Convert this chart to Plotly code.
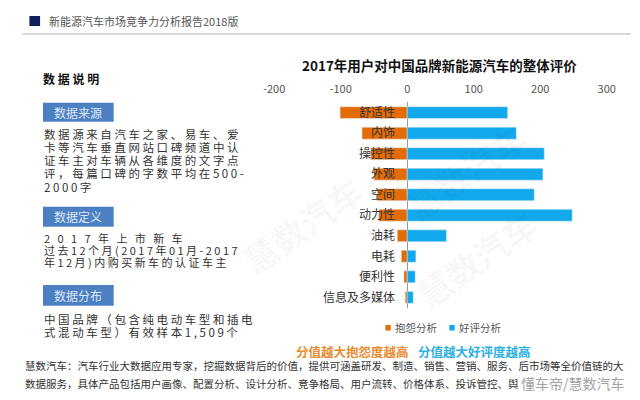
import plotly.graph_objects as go

categories = ["舒适性", "内饰", "操控性", "外观", "空间", "动力性", "油耗", "电耗", "便利性", "信息及多媒体"]
complaints = [-101, -68, -55, -50, -45, -43, -15, -9, -5, -3]
praises = [151, 164, 206, 204, 191, 248, 59, 13, 12, 9]
x_ticks = [-200, -100, 0, 100, 200, 300]
series_names = ["抱怨分析", "好评分析"]

FONT = "Noto Sans CJK SC, Noto Sans, sans-serif"
ORANGE = "#E36C09"
BLUE = "#12A9EC"
colors = [ORANGE, BLUE]

fig = go.Figure()
fig.add_trace(go.Bar(y=categories, x=complaints, orientation="h", name=series_names[0],
                     marker_color=ORANGE, width=0.58))
fig.add_trace(go.Bar(y=categories, x=praises, orientation="h", name=series_names[1],
                     marker_color=BLUE, width=0.58))

W, H = 640, 400
def px(x):
    return x / W
def py(y):
    return 1 - y / H

fig.update_layout(
    width=W, height=H, margin=dict(l=0, r=0, t=0, b=0),
    paper_bgcolor="white", plot_bgcolor="white",
    barmode="relative", bargap=0.4,
    font=dict(family=FONT, color="#333"),
    showlegend=False,
    xaxis=dict(domain=[px(271.7), px(615)], range=[-200, 300], side="top",
               tickvals=x_ticks, ticktext=[str(v) for v in x_ticks],
               tickfont=dict(size=11, color="#555"), showgrid=False,
               zeroline=True, zerolinecolor="#999", zerolinewidth=1,
               showline=False, ticks="", ticklabelstandoff=6),
    yaxis=dict(domain=[py(307.6), py(102.4)], range=[9.5, -0.5],
               categoryorder="array", categoryarray=categories,
               anchor="free", position=px(407.7), side="left",
               showgrid=False, zeroline=False, showline=False, ticks="",
               tickfont=dict(size=12, color="#333"), ticklabelstandoff=11),
)

ann = []
def text(x, y, s, size=11, color="#333", bold=False, anchor="left", **kw):
    if bold:
        s = "<b>" + s + "</b>"
    ann.append(dict(x=px(x), y=py(y), xref="paper", yref="paper", text=s, showarrow=False,
                    xanchor=anchor, yanchor="middle", font=dict(size=size, color=color, family=FONT), **kw))

def spaced(s, sep=" "):
    return sep.join(list(s))

# faint watermarks
for (wx, wy) in [(300, 225), (555, 320), (545, 110)]:
    ann.append(dict(x=px(wx), y=py(wy), xref="paper", yref="paper", text="<b>慧数汽车</b>",
                    showarrow=False, textangle=-35,
                    font=dict(size=34, color="rgba(0,0,0,0.04)", family=FONT)))

# header
shapes = [
    dict(type="rect", xref="paper", yref="paper", x0=px(19), x1=px(30), y0=py(26), y1=py(16),
         fillcolor="#0E1F5B", line=dict(width=0)),
    dict(type="line", xref="paper", yref="paper", x0=px(12), x1=1, y0=py(34), y1=py(34),
         line=dict(color="#A9B0BA", width=1.2)),
]
text(37, 21, "新能源汽车市场竞争力分析报告2018版", size=11, color="#555")

# compact legend (small square keys)
for (lx, name, col) in zip([386.5, 452.5], series_names, colors):
    shapes.append(dict(type="rect", xref="paper", yref="paper", x0=px(lx), x1=px(lx + 5.5),
                       y0=py(330.5), y1=py(325), fillcolor=col, line=dict(width=0)))
    text(lx + 7.5, 327.7, name, size=10.5, color="#555")

# chart title
text(442, 65, "2017年用户对中国品牌新能源汽车的整体评价", size=13.5, color="#111", bold=True, anchor="center")

# left panel
text(31, 78, "数 据 说 明", size=12, color="#111", bold=True)
for (y0, y1, label) in [(102.7, 121.7, "数据来源"), (206.7, 226.7, "数据定义"), (285, 305.7, "数据分布")]:
    shapes.append(dict(type="rect", xref="paper", yref="paper", x0=px(33), x1=px(106),
                       y0=py(y1), y1=py(y0), fillcolor="#4C80C3", line=dict(width=0)))
    text(69.5, (y0 + y1) / 2, label, size=12, color="#DCE7F5", anchor="center")

src_lines = ["数据源来自汽车之家、易车、爱", "卡等汽车垂直网站口碑频道中认",
             "证车主对车辆从各维度的文字点", "评，每篇口碑的字数平均在500-", "2000字"]
for i, s in enumerate(src_lines):
    text(32, 133.5 + 13.3 * i, spaced(s), size=11.5, color="#333")

def_lines = ["2017年上市新车", "过去12个月(2017年01月-2017", "年12月)内购买新车的认证车主"]
for i, s in enumerate(def_lines):
    sep = "   " if i == 0 else " "
    text(32, 238 + 12.1 * i, spaced(s, sep), size=11, color="#333")

dist_lines = ["中国品牌（包含纯电动车型和插电", "式混动车型）有效样本1,509个"]
for i, s in enumerate(dist_lines):
    text(32, 318.5 + 13.3 * i, spaced(s), size=11.5, color="#333")

# coloured remarks
text(292, 351.5, "分值越大抱怨度越高", size=12.5, color="#EA8A2E", bold=True)
text(418, 351.5, "分值越大好评度越高", size=12.5, color="#2BB0E2", bold=True)

# bottom paragraph
text(12, 365.5, "慧数汽车：汽车行业大数据应用专家，挖掘数据背后的价值，提供可涵盖研发、制造、销售、营销、服务、后市场等全价值链的大",
     size=10.5, color="#333")
text(12, 383, "数据服务，具体产品包括用户画像、配置分析、设计分析、竞争格局、用户流转、价格体系、投诉管控、舆",
     size=10.5, color="#333")
text(636, 383, "懂车帝/慧数汽车", size=14, color="rgba(150,150,150,0.9)", anchor="right")

fig.update_layout(annotations=ann, shapes=shapes)
fig.write_html("out.html")
